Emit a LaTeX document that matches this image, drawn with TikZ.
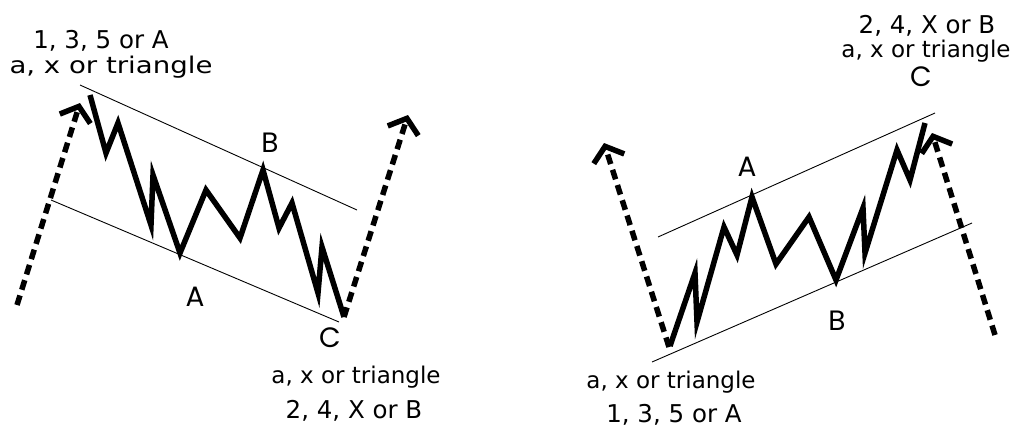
\documentclass[tikz,border=0pt]{standalone}
\usepackage{fontspec}
\setmainfont{DejaVu Sans}
\newfontfamily\abcfont{Poppins}
\usetikzlibrary{arrows.meta}
\begin{document}
\begin{tikzpicture}[x=1pt,y=-1pt,
 wave/.style={line width=5.5pt, line join=miter, miter limit=10},
 chan/.style={line width=0.9pt},
 trend/.style={line width=5.5pt, dash pattern=on 10pt off 6pt, -{Straight Barb[length=13pt,width=32pt]}},
 lbl/.style={font=\fontsize{23}{25}\selectfont, inner sep=0pt, anchor=base},
 num/.style={font=\fontsize{24.5}{26}\selectfont, inner sep=0pt, anchor=base},
 big/.style={font=\abcfont\fontsize{28}{30}\selectfont, inner sep=0pt}]
\useasboundingbox (0,0) rectangle (1016,429);
% ---------- left figure ----------
\coordinate (L0) at (17,305);
\coordinate (Ltop) at (80,103);
\coordinate (LS) at (90,95);
\coordinate (LA) at (180,253);
\coordinate (LB) at (263,170);
\coordinate (LC) at (344,317);
\coordinate (Lend) at (408,115);
\coordinate (Lu1) at (80,85);
\coordinate (Lu2) at (357,210);
\coordinate (Ll1) at (51,200);
\coordinate (Ll2) at (339,322);
\draw[chan] (Lu1) -- (Lu2);
\draw[chan] (Ll1) -- (Ll2);
\draw[trend] (L0) -- (Ltop);
\draw[wave] (LS) -- (106,153) -- (118,123) -- (151,225) -- (153,175) -- (LA)
  -- (206,190) -- (240,238) -- (LB) -- (279,228) -- (292,203) -- (318,293) -- (322,247) -- (LC);
\draw[trend] (LC) -- (Lend);
\node[num] (lt1) at (101,48) {1, 3, 5 or A};
\node[lbl] (lt2) at (111,73) {\scalebox{1.2}[1]{a, x or triangle}};
\node[big] (lbB) at (270,143) {B};
\node[big] (lbA) at (195,297) {A};
\node[big] (lbC) at (330,338) {C};
\node[lbl] (lb1) at (356,383) {a, x or triangle};
\node[num] (lb2) at (354,418) {2, 4, X or B};
% ---------- right figure ----------
\coordinate (R0) at (669,347);
\coordinate (Rtop) at (604,143);
\coordinate (RS) at (670,346);
\coordinate (RA) at (752,197);
\coordinate (RB) at (836,280);
\coordinate (RC) at (925,123);
\coordinate (Rbot) at (995,335);
\coordinate (Rend) at (932,133);
\coordinate (Ru1) at (658,237);
\coordinate (Ru2) at (935,113);
\coordinate (Rl1) at (652,362);
\coordinate (Rl2) at (972,223);
\draw[chan] (Ru1) -- (Ru2);
\draw[chan] (Rl1) -- (Rl2);
\draw[trend] (R0) -- (Rtop);
\draw[wave] (RS) -- (695,273) -- (697,322) -- (724,227) -- (737,255) -- (RA)
  -- (776,264) -- (809,217) -- (RB) -- (863,208) -- (865,253) -- (897,150) -- (910,180) -- (RC);
\draw[trend] (Rbot) -- (Rend);
\node[num] (rt1) at (927,33) {2, 4, X or B};
\node[lbl] (rt2) at (926,57) {a, x or triangle};
\node[big] (rbC) at (921,77) {C};
\node[big] (rbA) at (747,167) {A};
\node[big] (rbB) at (837,321) {B};
\node[lbl] (rb1) at (671,388) {a, x or triangle};
\node[num] (rb2) at (674,422) {1, 3, 5 or A};
\end{tikzpicture}
\end{document}
